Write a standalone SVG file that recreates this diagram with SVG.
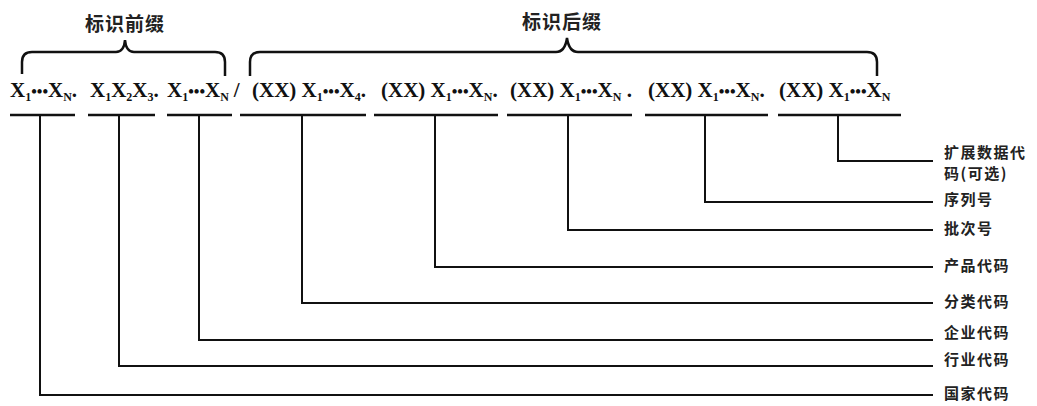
<svg xmlns="http://www.w3.org/2000/svg" width="1037" height="406" viewBox="0 0 1037 406">
<style>
.code{font-family:"Liberation Serif","Times New Roman",serif;font-weight:bold;font-size:21px;fill:#111}
.sub{font-size:12px}
.dots{font-size:16px}
.lbl{font-family:"Noto Sans CJK SC",sans-serif;font-weight:bold;font-size:15px;fill:#222;letter-spacing:1.5px}
.title{font-family:"Noto Sans CJK SC",sans-serif;font-weight:bold;font-size:19px;fill:#222;letter-spacing:1px}
.ul{stroke:#111;stroke-width:2.5;fill:none}
.brace{stroke:#111;stroke-width:2.5;fill:none}
.conn{stroke:#111;stroke-width:2;fill:none}
</style>
<rect width="1037" height="406" fill="#fff"/>
<g id="prefix-brace">
<path class="brace" d="M22,74 V62 Q22,52 32,52 H116 Q124,52 125,40 Q126,52 134,52 H215 Q225,52 225,62 V76"/>
<text class="title" x="85" y="31">标识前缀</text>
</g>
<g id="suffix-brace">
<path class="brace" d="M250,76 V62 Q250,52 260,52 H556 Q565,52 567,38 Q569,52 578,52 H867 Q877,52 877,62 V76"/>
<text class="title" x="522" y="29">标识后缀</text>
</g>
<g id="seg1">
<text class="code" x="10" y="97">X<tspan class="sub" baseline-shift="-4">1</tspan><tspan class="dots">•••</tspan>X<tspan class="sub" baseline-shift="-4">N</tspan>.</text>
<line class="ul" x1="10" y1="115" x2="75" y2="115"/>
</g>
<g id="seg2">
<text class="code" x="90" y="97">X<tspan class="sub" baseline-shift="-4">1</tspan>X<tspan class="sub" baseline-shift="-4">2</tspan>X<tspan class="sub" baseline-shift="-4">3</tspan>.</text>
<line class="ul" x1="88" y1="115" x2="155" y2="115"/>
</g>
<g id="seg3">
<text class="code" x="167" y="97">X<tspan class="sub" baseline-shift="-4">1</tspan><tspan class="dots">•••</tspan>X<tspan class="sub" baseline-shift="-4">N</tspan><tspan dx="5">/</tspan></text>
<line class="ul" x1="167" y1="115" x2="232" y2="115"/>
</g>
<g id="seg4">
<text class="code" x="252" y="97">(XX) X<tspan class="sub" baseline-shift="-4">1</tspan><tspan class="dots">•••</tspan>X<tspan class="sub" baseline-shift="-4">4</tspan>.</text>
<line class="ul" x1="240" y1="115" x2="366" y2="115"/>
</g>
<g id="seg5">
<text class="code" x="381" y="97">(XX) X<tspan class="sub" baseline-shift="-4">1</tspan><tspan class="dots">•••</tspan>X<tspan class="sub" baseline-shift="-4">N</tspan>.</text>
<line class="ul" x1="374" y1="115" x2="498" y2="115"/>
</g>
<g id="seg6">
<text class="code" x="510" y="97">(XX) X<tspan class="sub" baseline-shift="-4">1</tspan><tspan class="dots">•••</tspan>X<tspan class="sub" baseline-shift="-4">N</tspan> .</text>
<line class="ul" x1="507" y1="115" x2="632" y2="115"/>
</g>
<g id="seg7">
<text class="code" x="648" y="97">(XX) X<tspan class="sub" baseline-shift="-4">1</tspan><tspan class="dots">•••</tspan>X<tspan class="sub" baseline-shift="-4">N</tspan>.</text>
<line class="ul" x1="645" y1="115" x2="768" y2="115"/>
</g>
<g id="seg8">
<text class="code" x="779" y="97">(XX) X<tspan class="sub" baseline-shift="-4">1</tspan><tspan class="dots">•••</tspan>X<tspan class="sub" baseline-shift="-4">N</tspan></text>
<line class="ul" x1="778" y1="115" x2="901" y2="115"/>
</g>
<g id="connectors">
<path class="conn" d="M40,115 V395 H933"/>
<path class="conn" d="M119,115 V366 H933"/>
<path class="conn" d="M199,115 V340 H933"/>
<path class="conn" d="M302,115 V303 H933"/>
<path class="conn" d="M435,115 V267 H933"/>
<path class="conn" d="M568,115 V230 H933"/>
<path class="conn" d="M705,115 V202 H933"/>
<path class="conn" d="M838,115 V161 H933"/>
</g>
<g id="label-ext"><text class="lbl" x="944" y="158">扩展数据代</text><text class="lbl" x="944" y="179">码(可选)</text></g>
<g id="label-serial"><text class="lbl" x="944" y="205">序列号</text></g>
<g id="label-batch"><text class="lbl" x="944" y="234">批次号</text></g>
<g id="label-product"><text class="lbl" x="944" y="271">产品代码</text></g>
<g id="label-class"><text class="lbl" x="944" y="307">分类代码</text></g>
<g id="label-enterprise"><text class="lbl" x="944" y="338">企业代码</text></g>
<g id="label-industry"><text class="lbl" x="944" y="365">行业代码</text></g>
<g id="label-country"><text class="lbl" x="944" y="399">国家代码</text></g>
</svg>
